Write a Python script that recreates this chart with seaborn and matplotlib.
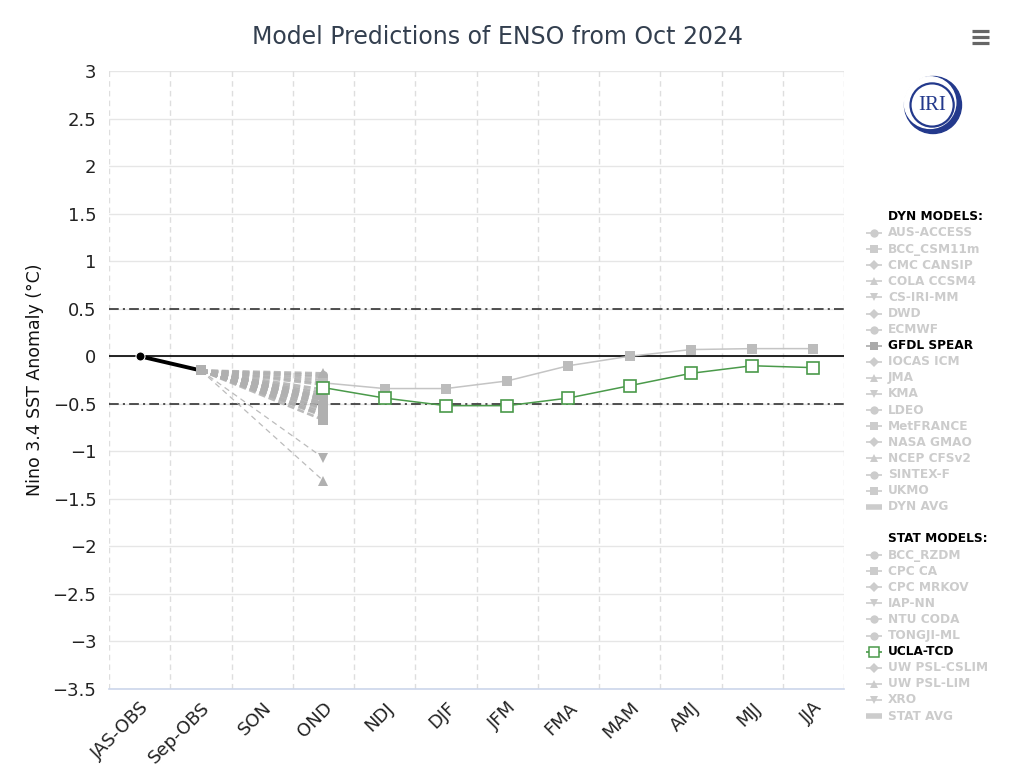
import numpy as np
import pandas as pd
import matplotlib
matplotlib.use("Agg")
import matplotlib.pyplot as plt
from matplotlib.lines import Line2D
from matplotlib.patches import Circle
import seaborn as sns

# ---------------- data ----------------
categories = ["JAS-OBS", "Sep-OBS", "SON", "OND", "NDJ", "DJF", "JFM",
              "FMA", "MAM", "AMJ", "MJJ", "JJA"]
obs_values = [0.0, -0.15]
forecast_seasons = ["OND", "NDJ", "DJF", "JFM", "FMA", "MAM", "AMJ", "MJJ", "JJA"]
gfdl_values = [-0.28, -0.34, -0.34, -0.26, -0.10, 0.00, 0.07, 0.08, 0.08]
ucla_values = [-0.33, -0.44, -0.52, -0.52, -0.44, -0.31, -0.18, -0.10, -0.12]

dyn_models = ["AUS-ACCESS", "BCC_CSM11m", "CMC CANSIP", "COLA CCSM4", "CS-IRI-MM",
              "DWD", "ECMWF", "GFDL SPEAR", "IOCAS ICM", "JMA", "KMA", "LDEO",
              "MetFRANCE", "NASA GMAO", "NCEP CFSv2", "SINTEX-F", "UKMO", "DYN AVG"]
dyn_ond = [-0.45, -0.55, -0.35, -1.31, -0.28, -0.40, -0.48, None, -0.22, -0.18,
           -1.07, -0.60, -0.52, -0.38, -0.62, -0.42, -0.58, -0.50]
stat_models = ["BCC_RZDM", "CPC CA", "CPC MRKOV", "IAP-NN", "NTU CODA", "TONGJI-ML",
               "UCLA-TCD", "UW PSL-CSLIM", "UW PSL-LIM", "XRO", "STAT AVG"]
stat_ond = [-0.30, -0.67, -0.25, -0.55, -0.20, -0.43, None, -0.50, -0.63, -0.46, -0.45]

# ---------------- styles ----------------
dyn_markers = ["o", "s", "D", "^", "v", "D", "o", "s", "D", "^", "v", "o",
               "s", "D", "^", "o", "s", None]
stat_markers = ["o", "s", "D", "v", "o", "o", "s", "D", "^", "v", None]
highlight = {"GFDL SPEAR", "UCLA-TCD"}

GRAY = "#b0b0b0"
LGRAY = "#cccccc"
GREEN = "#4a9a4a"

sns.set_theme(style="white")
plt.rcParams["font.family"] = ["DejaVu Sans"]
plt.rcParams["lines.scale_dashes"] = False

fig = plt.figure(figsize=(10.24, 7.7), dpi=100)
ax = fig.add_axes([109 / 1024, 1 - 689 / 770, 735 / 1024, 618 / 770])

pos = {c: i for i, c in enumerate(categories)}
x_obs = [0, 1]
x_fc = [pos[s] for s in forecast_seasons]

# axes / grid
ax.set_xlim(-0.5, 11.5)
ax.set_ylim(-3.5, 3)
yt = np.arange(-3.5, 3.01, 0.5)
ax.set_yticks(yt)
ax.set_yticklabels([f"{v:g}".replace("-", "\u2212") for v in yt], fontsize=13, color="#222222")
ax.set_xticks(range(len(categories)))
ax.set_xticklabels(categories, rotation=45, ha="right", va="top",
                   rotation_mode="anchor", fontsize=13, color="#222222")
ax.tick_params(axis="x", which="both", length=0, pad=7)
ax.tick_params(axis="y", length=0, pad=9)
ax.grid(False)
for v in yt:
    ax.axhline(v, color="#e6e6e6", lw=1, zorder=0)
for b in np.arange(-0.5, 12, 1):
    ax.axvline(b, color="#dedede", lw=1, ls=(0, (4, 3)), zorder=0)
for s in ["top", "right", "left"]:
    ax.spines[s].set_visible(False)
ax.spines["bottom"].set_color("#ccd6eb")
ax.spines["bottom"].set_linewidth(1.2)

ax.axhline(0, color="black", lw=1.2, zorder=1)
for v in (0.5, -0.5):
    ax.axhline(v, color="#333333", lw=1.2, ls=(0, (7, 3, 1.5, 3)), zorder=1)

# dashed plume lines from Sep-OBS to OND for non-highlighted models
def plume(names, ond, markers):
    for n, v, m in zip(names, ond, markers):
        if v is None or n in highlight:
            continue
        thin = v < -1.0
        lw = 0.9 if thin else 1.9
        if m is None:
            lw = 2.6
        sns.lineplot(x=[pos["Sep-OBS"], pos["OND"]], y=[obs_values[1], v], ax=ax,
                     color=GRAY, lw=lw, linestyle=(0, (5, 2.5)) if not thin else (0, (4, 3)),
                     legend=False, zorder=2, alpha=0.85)
        if m is not None:
            sns.lineplot(x=[pos["OND"]], y=[v], ax=ax, color=GRAY, lw=0, marker=m,
                         markersize=6.5 if m != "D" else 5.5, markeredgewidth=0,
                         legend=False, zorder=3)

plume(dyn_models, dyn_ond, dyn_markers)
plume(stat_models, stat_ond, stat_markers)

# GFDL SPEAR
sns.lineplot(x=x_fc, y=gfdl_values, ax=ax, color="#c4c4c4", lw=1.1, marker="s",
             markersize=6.5, markeredgewidth=0, markerfacecolor="#bcbcbc",
             legend=False, zorder=4)
# UCLA-TCD
sns.lineplot(x=x_fc, y=ucla_values, ax=ax, color=GREEN, lw=1.1, marker="s",
             markersize=8, markerfacecolor="white", markeredgecolor=GREEN,
             markeredgewidth=1.2, legend=False, zorder=5)
# observed
sns.lineplot(x=x_obs, y=obs_values, ax=ax, color="black", lw=2.8, legend=False, zorder=6)
sns.lineplot(x=[x_obs[0]], y=[obs_values[0]], ax=ax, color="black", lw=0, marker="o",
             markersize=6.5, legend=False, zorder=7)
sns.lineplot(x=[x_obs[1]], y=[obs_values[1]], ax=ax, color=GRAY, lw=0, marker="s",
             markersize=7, markeredgewidth=0, legend=False, zorder=7)

ax.set_xlabel("")
ax.set_ylabel("Nino 3.4 SST Anomaly (\u00b0C)", fontsize=12.5, color="#111111", labelpad=6)

# title
fig.text(497 / 1024, 1 - 37 / 770, "Model Predictions of ENSO from Oct 2024",
         ha="center", va="center", fontsize=17, color="#333f4f")

# hamburger menu
for yy in (31, 37, 43):
    fig.add_artist(Line2D([972 / 1024, 989 / 1024], [1 - yy / 770] * 2,
                          transform=fig.transFigure, color="#666666", lw=2.3,
                          solid_capstyle="butt"))

# legend
def fx(x): return x / 1024
def fy(y): return 1 - y / 770

def legend_block(header, y0, names, markers):
    fig.text(fx(888), fy(y0), header, ha="left", va="center", fontsize=8.7,
             fontweight="bold", color="black")
    for i, (n, m) in enumerate(zip(names, markers)):
        y = y0 + 17 + i * 16.1
        hl = n in highlight
        tc = "black" if hl else LGRAY
        if n == "UCLA-TCD":
            lc = GREEN
        elif hl:
            lc = "#aaaaaa"
        else:
            lc = LGRAY
        lw = 4 if m is None else 1.2
        fig.add_artist(Line2D([fx(866), fx(882)], [fy(y)] * 2, transform=fig.transFigure,
                              color=lc, lw=lw, solid_capstyle="butt"))
        if m is not None:
            if n == "UCLA-TCD":
                fig.add_artist(Line2D([fx(874)], [fy(y)], transform=fig.transFigure,
                                      marker="s", markersize=6.5, markerfacecolor="white",
                                      markeredgecolor=GREEN, markeredgewidth=1.1, lw=0))
            else:
                fig.add_artist(Line2D([fx(874)], [fy(y)], transform=fig.transFigure,
                                      marker=m, markersize=6 if m != "D" else 5,
                                      color=lc, markeredgewidth=0, lw=0))
        fig.text(fx(888), fy(y), n, ha="left", va="center", fontsize=8.7,
                 fontweight="bold", color=tc)

legend_block("DYN MODELS:", 216, dyn_models, dyn_markers)
legend_block("STAT MODELS:", 538, stat_models, stat_markers)

# IRI logo
lax = fig.add_axes([fx(933 - 33), fy(105 + 33), 66 / 1024, 66 / 770])
lax.set_xlim(-1.1, 1.1)
lax.set_ylim(-1.1, 1.1)
lax.set_aspect("equal")
lax.axis("off")
NAVY = "#23398c"
lax.add_patch(Circle((0, 0), 0.95, color=NAVY))
lax.add_patch(Circle((-0.1, 0.08), 0.86, color="white"))
lax.add_patch(Circle((-0.03, 0.0), 0.72, facecolor="white", edgecolor=NAVY, lw=1.6))
lax.text(-0.03, -0.02, "IRI", ha="center", va="center", fontsize=15,
         family=["Liberation Serif", "DejaVu Serif"], color=NAVY)

fig.savefig("out.png", dpi=100, facecolor="white")
